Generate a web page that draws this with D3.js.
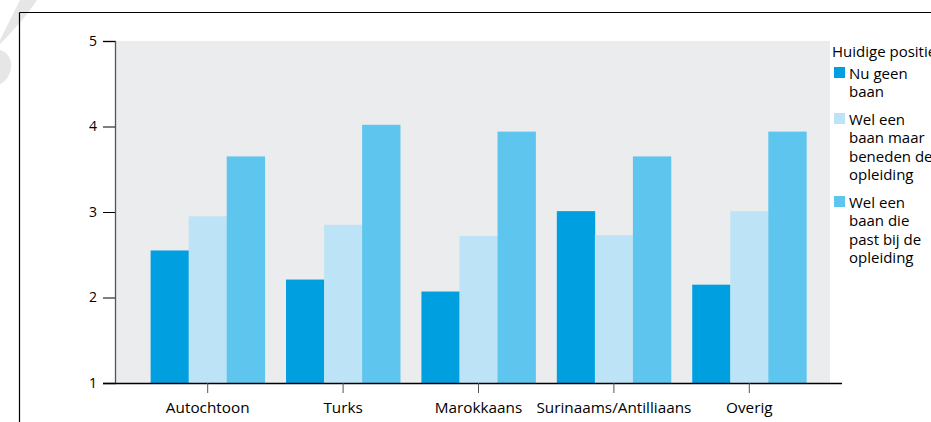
<!DOCTYPE html>
<html>
<head>
<meta charset="utf-8">
<script src="https://cdn.jsdelivr.net/npm/d3@7"></script>
<style>
  html, body { margin: 0; padding: 0; background: #fff; overflow: hidden; }
  svg { display: block; font-family: "Open Sans", "Noto Sans", sans-serif; }
</style>
</head>
<body>
<svg id="chart" width="931" height="422"></svg>
<script>
const categories = ["Autochtoon", "Turks", "Marokkaans", "Surinaams/Antilliaans", "Overig"];
const seriesNames = ["Nu geen baan", "Wel een baan maar beneden de opleiding", "Wel een baan die past bij de opleiding"];
const legendLines = [["Nu geen", "baan"], ["Wel een", "baan maar", "beneden de", "opleiding"], ["Wel een", "baan die", "past bij de", "opleiding"]];
const nuGeenBaan = [2.55, 2.21, 2.07, 3.01, 2.15];
const welBeneden = [2.95, 2.85, 2.72, 2.73, 3.01];
const welPast = [3.65, 4.02, 3.94, 3.65, 3.94];
const yTicks = [1, 2, 3, 4, 5];
const legendTitle = "Huidige positie";
const colors = ["#009fe0", "#bde4f6", "#5ec5ee"];

const series = [nuGeenBaan, welBeneden, welPast];
const svg = d3.select("#chart");
const FONT = "'Open Sans', sans-serif";

// decorative corner shape
svg.append("path")
  .attr("d", "M20,0 L37,0 C28,14 14,30 0,44 L0,40 Z")
  .attr("fill", "#e6e6e6");
svg.append("path")
  .attr("d", "M0,50 C8,52 12,60 11,68 C10,76 5,82 0,84 Z")
  .attr("fill", "#e6e6e6");

// frame
svg.append("line").attr("x1", 19.5).attr("y1", 12.5).attr("x2", 931).attr("y2", 12.5)
  .attr("stroke", "#000").attr("stroke-width", 1.2);
svg.append("line").attr("x1", 19.5).attr("y1", 12.5).attr("x2", 19.5).attr("y2", 422)
  .attr("stroke", "#000").attr("stroke-width", 1.2);

const plotL = 116, plotR = 830, plotT = 41, plotB = 383;

const x0 = d3.scaleBand().domain(categories).range([140, 817]).paddingInner(0.157).paddingOuter(0.0785);
const x1 = d3.scaleBand().domain(d3.range(series.length)).range([0, x0.bandwidth()]);
const y = d3.scaleLinear().domain([1, 5]).range([plotB, plotT]);

svg.append("rect").attr("x", plotL).attr("y", plotT).attr("width", plotR - plotL).attr("height", plotB - plotT)
  .attr("fill", "#ebeced");

const groups = svg.append("g").selectAll("g").data(categories).join("g")
  .attr("transform", d => `translate(${x0(d)},0)`);
groups.selectAll("rect").data((c, i) => series.map((s, k) => ({ k, v: s[i] }))).join("rect")
  .attr("x", d => x1(d.k))
  .attr("width", x1.bandwidth() + 0.3)
  .attr("y", d => y(d.v))
  .attr("height", d => y(1) - y(d.v))
  .attr("fill", d => colors[d.k]);

// y axis
const yAxis = svg.append("g").attr("transform", `translate(${plotL - 1},0)`)
  .call(d3.axisLeft(y).tickValues(yTicks).tickFormat(d3.format("d")).tickSize(12).tickPadding(6));
yAxis.select(".domain").attr("stroke", "#555").attr("stroke-width", 1.3);
yAxis.selectAll(".tick line").attr("stroke", "#000");
yAxis.selectAll(".tick text").attr("font-size", 14).attr("fill", "#000").attr("font-family", FONT);

// x axis
const xAxis = svg.append("g").attr("transform", `translate(0,${plotB})`)
  .call(d3.axisBottom(x0).tickSize(10).tickPadding(9).tickSizeOuter(0));
xAxis.select(".domain").attr("d", `M103,0.5H842`).attr("stroke", "#000").attr("stroke-width", 1.5);
xAxis.selectAll(".tick line").attr("stroke", "#555");
xAxis.selectAll(".tick text").attr("font-size", 15.3).attr("fill", "#000").attr("font-family", FONT);

// legend
const lg = svg.append("g").attr("font-size", 15).attr("font-family", FONT).attr("fill", "#000");
lg.append("text").attr("x", 832).attr("y", 57).text(legendTitle);
const itemTops = [67, 113, 196];
legendLines.forEach((lines, k) => {
  lg.append("rect").attr("x", 834).attr("y", itemTops[k]).attr("width", 11).attr("height", 11).attr("fill", colors[k]);
  lines.forEach((t, j) => {
    lg.append("text").attr("x", 849).attr("y", itemTops[k] + 11.5 + j * 18.5).text(t);
  });
});
</script>
</body>
</html>
